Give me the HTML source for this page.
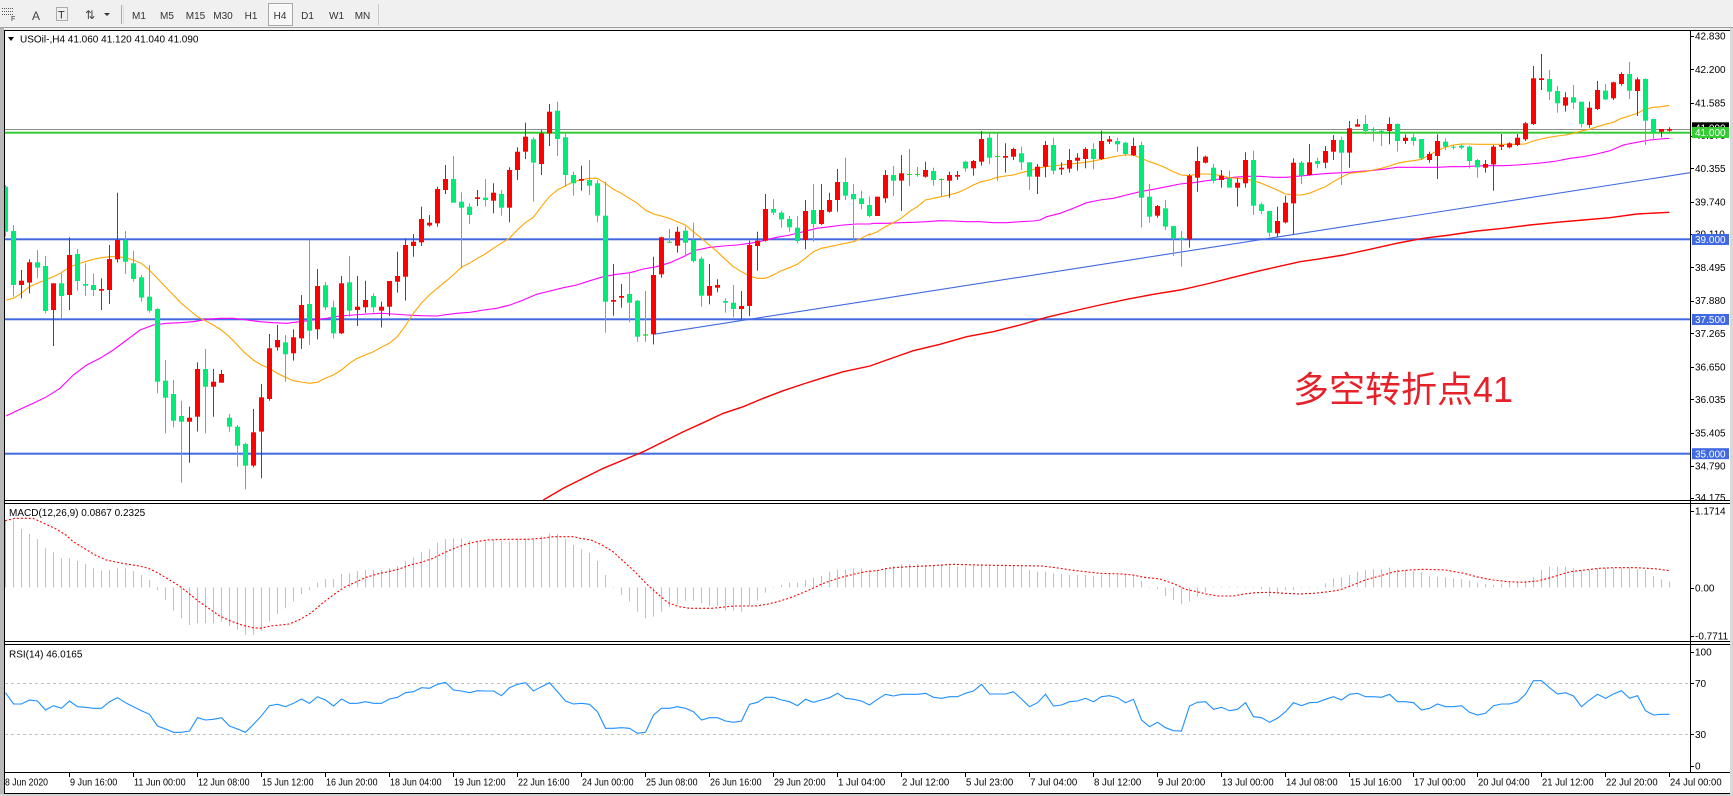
<!DOCTYPE html>
<html><head><meta charset="utf-8"><style>
html,body{margin:0;padding:0;background:#f0f0f0;}
svg{display:block;}
text{font-family:"Liberation Sans","DejaVu Sans",sans-serif;}
</style></head><body>
<svg id="c" xmlns="http://www.w3.org/2000/svg" width="1733" height="796" viewBox="0 0 1733 796">
<defs>
<clipPath id="cm"><rect x="5" y="31" width="1685" height="469"/></clipPath>
<clipPath id="cd"><rect x="5" y="504" width="1685" height="137"/></clipPath>
<clipPath id="cr"><rect x="5" y="645" width="1685" height="127"/></clipPath>
</defs>
<rect x="0" y="0" width="1733" height="796" fill="#f0f0f0"/>
<!-- toolbar -->
<g fill="#555">
<rect x="2" y="8" width="1" height="1"/><rect x="4" y="8" width="1" height="1"/><rect x="6" y="8" width="1" height="1"/><rect x="8" y="8" width="1" height="1"/><rect x="10" y="8" width="1" height="1"/><rect x="12" y="8" width="1" height="1"/>
<rect x="2" y="11" width="1" height="1"/><rect x="4" y="11" width="1" height="1"/><rect x="6" y="11" width="1" height="1"/><rect x="8" y="11" width="1" height="1"/><rect x="10" y="11" width="1" height="1"/><rect x="12" y="11" width="1" height="1"/>
<rect x="2" y="14" width="1" height="1"/><rect x="4" y="14" width="1" height="1"/><rect x="6" y="14" width="1" height="1"/><rect x="8" y="14" width="1" height="1"/><rect x="10" y="14" width="1" height="1"/><rect x="12" y="14" width="1" height="1"/>
</g>
<text x="11" y="21" font-size="7" fill="#333">F</text>
<text x="32" y="20" font-size="12" fill="#444">A</text>
<rect x="56.5" y="7.5" width="11" height="13" fill="none" stroke="#666" stroke-dasharray="1,1"/>
<text x="58" y="18.5" font-size="11" fill="#333">T</text>
<text x="85" y="19" font-size="12" fill="#444">⇅</text>
<path d="M104 13 L110 13 L107 16 Z" fill="#333"/>
<rect x="121" y="5" width="1" height="19" fill="#999" opacity="0.8"/>
<rect x="123" y="5" width="1" height="19" fill="#ddd"/>
<rect x="268.5" y="3.5" width="24" height="22" fill="#f8f8f8" stroke="#a8a8a8"/>
<g font-size="10" fill="#333" text-anchor="middle">
<text x="139" y="19">M1</text><text x="167" y="19">M5</text><text x="195.5" y="19">M15</text><text x="223" y="19">M30</text><text x="251" y="19">H1</text><text x="280" y="19">H4</text><text x="307.5" y="19">D1</text><text x="336.5" y="19">W1</text><text x="362.5" y="19">MN</text>
</g>
<rect x="378" y="4" width="1" height="21" fill="#c8c8c8"/>
<rect x="0" y="27" width="1733" height="1" fill="#a0a0a0"/>
<!-- chart frame -->
<rect x="0" y="28" width="4" height="768" fill="#b8b8b8"/>
<rect x="4" y="30" width="1726" height="764" fill="#ffffff"/>
<rect x="1730" y="28" width="3" height="768" fill="#d8d8d8"/>
<rect x="4" y="30" width="1726" height="1" fill="#000"/>
<rect x="4" y="30" width="1" height="764" fill="#000"/>
<rect x="4" y="500" width="1726" height="1" fill="#000"/>
<rect x="4" y="503" width="1726" height="1" fill="#000"/>
<rect x="4" y="641" width="1726" height="1" fill="#000"/>
<rect x="4" y="644" width="1726" height="1" fill="#000"/>
<rect x="4" y="772" width="1726" height="1" fill="#000"/>
<rect x="4" y="793" width="1726" height="1" fill="#000"/>
<rect x="0" y="794" width="1733" height="2" fill="#d4d4d4"/>
<rect x="1690" y="30" width="1" height="743" fill="#000"/>
<g id="gm" clip-path="url(#cm)"></g>
<g id="gd" clip-path="url(#cd)"></g>
<g id="gr" clip-path="url(#cr)"></g>
<g id="ga"></g>
<!-- header labels -->
<path d="M8 37 L14 37 L11 41 Z" fill="#000"/>
<text x="20" y="42.5" font-size="10" fill="#000">USOil-,H4  41.060 41.120 41.040 41.090</text>
<text x="9" y="516" font-size="10" fill="#000">MACD(12,26,9) 0.0867 0.2325</text>
<text x="9" y="657.5" font-size="10" fill="#000">RSI(14) 46.0165</text>
<text x="1293" y="402" font-size="36" fill="#E62129" style="font-family:'Liberation Sans','Noto Sans CJK SC',sans-serif">多空转折点41</text>
</svg>
<script>
(function(){
var NS='http://www.w3.org/2000/svg';
function el(t,a,p){var e=document.createElementNS(NS,t);for(var k in a)e.setAttribute(k,a[k]);p.appendChild(e);return e;}
var gm=document.getElementById('gm'),gd=document.getElementById('gd'),gr=document.getElementById('gr'),ga=document.getElementById('ga');
function Y(v){return 30+v/3;}
// horizontal lines
el('rect',{x:5,y:129,width:1685,height:1,fill:'#8c8c8c'},gm);
el('rect',{x:5,y:131.7,width:1685,height:2,fill:'#32CD32'},gm);
[239.3,319.3,453.7].forEach(function(y){el('rect',{x:5,y:y-1,width:1685,height:2,fill:'#4169E1'},gm);});
// MAs
function cat(list){var s=[];list.forEach(function(L){var off=L[0];L[1].forEach(function(p){s.push((off+p[0]/3).toFixed(1)+','+Y(p[1]).toFixed(1));});});return s.join(' ');}
var RM5=[[340,1410],[400,1375],[460,1345],[520,1315],[580,1290],[640,1265],[700,1235],[760,1205],[820,1178],[880,1150],[940,1130],[1000,1105],[1060,1082],[1120,1062],[1180,1043],[1240,1025],[1320,1008]];
var RM6=[[80,990],[160,962],[240,943],[320,920],[400,905],[480,885],[560,862],[640,843],[720,825],[800,808],[880,793],[960,780],[1040,762],[1120,742],[1200,722],[1320,695]];
var RM7=[[80,688],[160,675],[240,658],[320,640],[400,625],[480,615],[560,603],[640,595],[720,585],[800,577],[880,570],[960,563],[1040,552],[1138,547]];
el('polyline',{points:cat([[430,RM5],[860,RM6],[1290,RM7]]),fill:'none',stroke:'#FF0000','stroke-width':1.4},gm);
// trendline
el('line',{x1:653.3,y1:334.3,x2:1690,y2:172.7,stroke:'#4169E1','stroke-width':1.1},gm);
var M4=[[18,1158],[60,1138],[100,1120],[140,1100],[180,1075],[220,1035],[260,1005],[300,985],[340,960],[380,930],[420,900],[460,885],[500,880],[540,878],[580,875],[620,868],[660,865],[700,865],[740,870],[780,875],[820,878],[860,880],[900,875],[940,870],[980,865],[1020,858],[1060,855],[1100,852],[1140,850],[1180,852],[1220,855],[1260,857],[1312,858]];
var M5=[[40,855],[80,850],[120,847],[160,840],[200,835],[240,825],[280,810],[320,793],[360,783],[400,773],[440,765],[480,752],[520,740],[560,733],[600,728],[640,717],[680,710],[720,698],[760,680],[800,660],[840,652],[880,648],[920,645],[960,640],[1000,632],[1040,622],[1080,615],[1120,605],[1160,595],[1200,590],[1240,585],[1280,582],[1320,582]];
var M6=[[40,580],[80,580],[120,578],[160,577],[200,575],[240,572],[280,573],[320,575],[360,575],[400,578],[440,578],[480,575],[520,573],[540,570],[560,560],[600,550],[640,535],[680,518],[720,510],[760,505],[800,495],[840,485],[880,478],[920,470],[960,462],[1000,458],[1040,452],[1080,447],[1120,442],[1160,439],[1200,439],[1240,442],[1280,442],[1320,438]];
var M7=[[40,437],[80,433],[120,430],[160,428],[200,425],[240,422],[280,418],[320,412],[360,412],[400,412],[440,412],[480,410],[520,410],[560,408],[600,407],[640,407],[680,405],[720,402],[760,398],[800,393],[840,385],[880,380],[920,372],[960,362],[1000,345],[1040,337],[1080,330],[1110,327],[1138,325]];
el('polyline',{points:cat([[0,M4],[430,M5],[860,M6],[1290,M7]]),fill:'none',stroke:'#FF00FF','stroke-width':1.1},gm);
var O4=[[18,810],[40,805],[64,790],[88,770],[112,760],[136,750],[160,740],[184,728],[208,712],[232,702],[256,695],[280,688],[304,683],[328,680],[352,680],[376,683],[400,690],[424,700],[448,720],[472,745],[496,770],[520,795],[544,820],[568,840],[592,860],[616,872],[640,885],[664,900],[688,920],[712,945],[736,970],[760,990],[784,1005],[808,1015],[832,1030],[856,1042],[880,1052],[904,1056],[928,1060],[952,1057],[976,1045],[1000,1035],[1024,1020],[1048,1000],[1072,985],[1096,975],[1120,965],[1144,952],[1168,940],[1192,920],[1216,888],[1240,850],[1264,820],[1288,795],[1312,775]];
var O5=[[46,755],[70,735],[94,712],[118,700],[142,685],[166,672],[190,655],[214,640],[238,625],[262,600],[286,578],[310,562],[334,530],[358,500],[382,480],[406,468],[430,455],[454,450],[478,445],[502,445],[526,460],[550,478],[574,490],[598,505],[622,520],[646,540],[670,552],[694,558],[718,565],[742,575],[766,585],[790,605],[814,625],[838,645],[862,665],[886,688],[910,710],[934,725],[958,738],[982,745],[1006,745],[1030,735],[1054,722],[1078,713],[1102,703],[1126,685],[1150,665],[1174,655],[1198,650],[1222,645],[1246,640],[1270,635],[1294,625],[1318,612]];
var O6=[[28,615],[52,605],[76,590],[100,578],[124,565],[148,545],[172,530],[196,510],[220,505],[244,500],[268,495],[292,488],[316,478],[340,465],[364,455],[388,450],[412,442],[436,438],[460,435],[484,428],[508,422],[532,415],[556,410],[580,408],[604,405],[628,402],[652,400],[676,397],[700,393],[724,388],[748,383],[772,378],[796,375],[820,375],[844,385],[868,395],[892,403],[916,413],[940,425],[964,435],[988,437],[1012,432],[1036,432],[1060,433],[1084,437],[1108,443],[1132,445],[1156,447],[1180,452],[1204,460],[1228,470],[1252,480],[1276,492],[1300,495]];
var O7=[[34,495],[58,490],[82,480],[106,470],[130,455],[154,442],[178,430],[202,427],[226,425],[250,420],[274,415],[298,408],[322,400],[346,395],[370,392],[394,388],[418,375],[442,362],[466,352],[490,345],[514,342],[538,342],[562,343],[586,343],[610,343],[634,343],[658,343],[682,343],[706,342],[730,333],[754,327],[778,322],[802,318],[826,315],[850,310],[874,303],[898,298],[922,290],[946,283],[970,277],[994,265],[1018,258],[1042,250],[1066,237],[1090,232],[1114,230],[1138,226]];
el('polyline',{points:cat([[0,O4],[430,O5],[860,O6],[1290,O7]]),fill:'none',stroke:'#FFA500','stroke-width':1.1},gm);
// candles
var C=[['g',470,605,465,620],['g',603,765,585,800],['r',752,765,720,805],['r',697,758,688,790],['g',697,713,660,745],['g',708,843,678,850],['r',760,840,760,948],['g',760,798,730,865],['r',675,795,622,840],['g',672,753,657,782],
['g',762,767,700,798],['g',765,780,730,798],['r',777,782,745,840],['r',687,780,645,822],['r',630,688,488,697],['g',630,695,603,732],['g',700,747,662,755],['g',742,803,735,815],['g',800,842,705,848],['g',837,1055,835,1090],
['g',1052,1103,990,1210],['g',1092,1172,1050,1192],['g',1158,1175,1112,1358],['r',1163,1175,1130,1298],['r',1017,1160,997,1205],['g',1017,1070,957,1210],['r',1055,1070,1017,1160],['r',1032,1058,1020,1058],['g',1163,1190,1152,1205],['g',1190,1247,1185,1310],
['g',1242,1307,1238,1378],['r',1207,1307,1137,1312],['r',1102,1205,1062,1345],['r',955,1107,912,1112],['r',930,952,885,962],['g',937,973,915,1055],['r',922,970,898,992],['r',825,925,795,957],['g',822,902,630,945],['r',768,898,717,928],
['g',766,832,756,840],['g',832,910,812,925],['r',760,910,738,912],['g',757,842,678,860],['r',830,840,738,888],['r',810,832,752,848],['g',798,832,790,848],['r',830,842,815,892],['r',753,830,753,858],['r',738,755,665,788],
['r',645,740,625,812],['r',635,648,612,680],['r',567,637,530,648],['r',578,586,555,590],['r',477,580,470,590],['r',447,480,405,492],['g',447,518,378,518],['g',515,533,487,715],['g',530,555,520,582],['r',502,507,480,528],
['g',503,510,447,530],['r',488,512,460,550],['g',492,533,480,557],['r',420,533,412,577],['r',365,420,352,450],['r',320,365,278,387],['g',328,398,322,515],['r',310,402,300,435],['r',245,310,222,348],['g',242,327,215,378],
['g',322,435,310,470],['g',435,460,425,497],['r',447,452,407,482],['g',450,467,390,495],['g',460,557,450,577],['g',557,815,455,908],['r',810,815,702,857],['r',798,803,762,833],['g',792,818,725,877],['g',812,920,810,935],
['l',913,917,783,935],['r',735,913,680,943],['r',622,733,620,743],['l',635,638,597,638],['r',605,647,590,668],['g',602,638,590,680],['g',630,693,578,697],['g',686,797,680,830],['r',768,797,702,823],['r',765,773,748,787],
['g',813,818,805,848],['g',818,837,765,862],['r',828,837,783,868],['r',645,828,632,858],['r',632,648,605,722],['r',537,632,492,635],['g',537,548,507,555],['g',548,568,542,593],['g',567,592,558,605],['g',593,633,558,640],
['r',543,630,510,658],['g',540,582,462,635],['r',540,582,462,585],['r',510,545,488,548],['r',456,510,417,545],['g',456,497,383,510],['g',492,508,462,632],['g',505,522,482,538],['g',525,558,500,562],['r',500,558,500,558],
['r',435,505,420,518],['g',435,452,408,498],['r',430,452,375,543],['l',432,435,357,468],['l',432,435,411,440],['r',420,440,395,443],['g',423,450,413,467],['l',447,449,445,498],['r',435,452,425,503],['r',435,440,423,450],
['g',395,415,392,425],['r',393,415,390,437],['r',327,395,303,407],['g',323,383,310,403],['l',378,381,308,452],['r',378,383,340,428],['r',357,380,353,390],['g',370,397,350,420],['g',397,440,397,480],['r',410,440,402,492],
['r',345,410,333,442],['g',345,422,323,433],['r',413,418,397,435],['r',390,416,357,428],['r',383,392,370,422],['r',357,387,352,415],['g',357,387,340,418],['r',333,387,302,390],['r',328,335,318,342],['g',333,343,323,365],
['g',338,372,335,377],['r',348,376,323,378],['g',345,503,335,592],['g',500,560,462,578],['r',528,557,525,563],['g',535,590,510,600],['g',588,625,588,678],['g',623,628,603,710],['r',437,628,432,653],['r',393,443,350,485],
['r',380,398,377,400],['g',413,453,402,460],['r',437,450,420,473],['g',445,473,422,473],['r',458,473,445,530],['r',390,460,367,473],['g',390,527,362,555],['g',523,543,518,552],['g',543,608,543,620],['r',573,610,530,622],
['r',518,577,497,580],['r',398,520,385,613],['g',398,437,393,462],['r',397,435,342,437],['g',393,402,383,415],['r',363,398,348,415],['r',330,365,315,390],['g',330,368,320,465],['r',295,368,273,413],['r',283,290,267,290],
['g',282,303,255,313],['g',298,302,292,335],['g',302,305,298,348],['r',282,303,262,343],['g',282,333,280,365],['r',323,333,313,342],['g',322,333,312,347],['g',327,385,327,390],['r',372,390,365,398],['r',333,378,313,447],
['g',335,350,325,360],['g',350,353,345,358],['g',347,353,343,357],['g',350,393,347,415],['g',390,412,387,443],['r',402,413,390,428],['r',350,403,345,482],['r',345,350,312,360],['r',340,352,337,355],['r',323,345,312,348],
['r',280,328,276,333],['r',145,282,108,285],['r',145,150,72,180],['g',147,185,120,210],['g',183,220,168,248],['r',202,227,187,245],['g',202,218,165,237],['g',215,282,215,292],['r',233,285,215,293],['r',180,237,153,240],
['g',182,208,162,210],['r',157,205,155,210],['r',132,162,127,167],['g',132,182,96,207],['r',148,183,142,258],['g',147,272,145,345],['g',267,307,267,327],['r',297,305,297,322],['r',297,302,292,305]];
var col={r:'#FF0000',g:'#00EA78',l:'#22DD22'};
C.forEach(function(c,i){
  var x=5+8*i,f=col[c[0]];
  var wt=Y(c[3]),wb=Y(c[4]),bt=Y(c[1]),bb=Y(c[2]);
  el('rect',{x:x,y:wt.toFixed(1),width:1,height:Math.max(1,wb-wt).toFixed(1),fill:f},gm);
  el('rect',{x:x-2,y:bt.toFixed(1),width:5,height:Math.max(1,bb-bt).toFixed(1),fill:f},gm);
});
// MACD histogram
var H=[67.3,66.7,58.3,53.3,48.3,39,35,29,29,26.3,23.3,19,16.7,17.3,19,19,16.3,12.3,7.3,-2.7,-12.7,-23.3,-31,-37.7,-36,-36,-36,-34.3,-38.7,-42.7,-47.7,-47.7,-43.7,-34.3,-26.7,-21,-14.3,-6.7,-2.7,4.7,8.3,8.3,13.3,14,16.3,17.3,17.3,17.3,19,21.3,26.3,30,35,38.3,44.7,48.3,49,49,46.7,46.7,47.3,47.3,46.7,45.7,49,49,49,51.3,54,53.3,48.3,42.3,
38.3,34.7,26.3,12.3,0.3,-7.7,-14.3,-24.3,-31,-29.3,-24.3,-20,-16.7,-13.3,-13.3,-16,-18.7,-18.7,-23.3,-23.3,-24.3,-18.7,-13.3,-5.3,0,2.3,4.7,4.7,7.3,9.7,11.3,15.7,18,18,19,19,17.3,17.3,19,21.3,23,23.3,23.3,22.3,22.3,21.7,21.7,20.7,20.7,21.3,23.3,22.3,22.3,22.3,21.3,21.3,17.3,15.7,15.7,14,13.3,12.3,12.3,12.3,11.7,12.3,14,12.3,12.3,12.3,6.3,0,-2,
-8.7,-12.7,-17,-14.3,-9.3,-5.3,0.7,0.7,0.7,0.7,0,0,-2,-9.3,-6,-2.7,-2.7,0,0,0,4,9,10,12.3,15.7,17.3,18,18,19.7,18,17.3,16.3,14.7,11.3,10.7,10,9,8.3,6.7,4.7,3.3,2.3,4,4.7,5.7,6.3,10,17.3,20.7,20.7,20.7,19,17.3,17.3,19,19,19,19,19,18,17.3,11.3,8,5.7];
var Z=587.3;
H.forEach(function(v,i){var x=5+8*i;var h=Math.abs(v);if(h<0.6)h=0.6;el('rect',{x:x,y:(v>=0?Z-h:Z).toFixed(1),width:1,height:h.toFixed(1),fill:'#C0C0C0'},gd);});
function catS(list){var s=[];list.forEach(function(L){var off=L[0];L[1].forEach(function(p){s.push((off+p[0]*0.3662).toFixed(1)+','+(500+p[1]/3).toFixed(1));});});return s.join(' ');}
var S8=[[14,62],[40,55],[90,55],[120,70],[150,85],[180,105],[200,125],[230,145],[260,165],[290,180],[320,187],[350,193],[380,198],[405,205],[430,218],[460,238],[490,258],[510,275],[540,302],[570,325],[600,348],[630,363],[660,375],[690,383],[710,385],[740,378],[790,372],[820,358],[850,338],[880,310],[910,285],[940,262],[970,247],[1000,232],[1030,222],[1060,215],[1090,207],[1120,195],[1150,187],[1180,176],[1210,160],[1240,145],[1270,133],[1300,125],[1330,120],[1380,118],[1440,118],[1480,115],[1510,110],[1568,110]];
var S9=[[0,115],[30,120],[60,135],[90,155],[120,185],[150,215],[180,250],[210,280],[240,308],[270,320],[300,325],[360,325],[420,318],[480,318],[510,313],[540,305],[570,295],[600,282],[630,268],[660,252],[690,240],[720,230],[750,222],[780,215],[810,212],[840,205],[870,202],[900,200],[960,197],[1020,193],[1080,195],[1200,197],[1260,198],[1300,203],[1340,210],[1380,215],[1420,220],[1480,222],[1510,225],[1540,232],[1568,235]];
var S10=[[0,237],[40,252],[70,268],[100,275],[130,283],[160,288],[200,288],[230,282],[260,278],[300,277],[340,280],[380,282],[420,280],[460,275],[490,270],[520,258],[560,240],[600,228],[640,215],[680,210],[720,208],[780,210],[830,220],[870,232],[910,240],[950,245],[990,247],[1030,243],[1060,235],[1090,225],[1120,215],[1160,210],[1200,205],[1240,203],[1300,203],[1360,207],[1394,213]];
el('polyline',{points:catS([[0,S8],[580,S9],[1160,S10]]),fill:'none',stroke:'#FF0000','stroke-width':1.1,'stroke-dasharray':'2,2'},gd);
// RSI
el('line',{x1:5,y1:683.5,x2:1690,y2:683.5,stroke:'#C0C0C0','stroke-width':1,'stroke-dasharray':'3,3'},gr);
el('line',{x1:5,y1:734.5,x2:1690,y2:734.5,stroke:'#C0C0C0','stroke-width':1,'stroke-dasharray':'3,3'},gr);
var R=[578,612,612,600,603,630,617,625,603,620,622,625,625,605,593,608,620,632,643,678,687,697,697,693,653,660,658,653,678,687,697,673,647,617,613,620,610,597,610,590,600,618,597,610,610,605,610,610,597,592,578,575,563,565,553,547,570,573,578,572,573,573,587,563,553,548,573,560,548,575,603,612,
610,613,635,685,685,683,685,700,697,645,625,625,620,625,635,660,653,653,663,667,663,613,607,592,592,600,605,617,598,607,600,593,580,595,598,603,615,598,583,588,583,583,583,580,592,595,590,590,580,573,553,582,582,582,575,597,620,608,583,618,615,605,603,595,605,590,587,593,608,598,660,680,667,
683,692,693,618,607,605,628,622,632,628,608,650,653,667,655,635,608,617,608,607,598,590,600,583,580,590,590,592,583,605,605,608,630,625,612,620,620,617,637,645,640,617,612,612,605,583,542,542,563,582,578,588,620,600,583,595,582,572,595,587,632,645,643,643];
el('polyline',{points:R.map(function(v,i){return (5.5+8*i)+','+(500+v/3).toFixed(1);}).join(' '),fill:'none',stroke:'#1E90FF','stroke-width':1.1},gr);
// right axis labels
function txt(x,y,s,fill,size,p,anchor){var t=el('text',{x:x,y:y,'font-size':size||10,fill:fill||'#000'},p||ga);if(anchor)t.setAttribute('text-anchor',anchor);t.textContent=s;return t;}
var PL=[['42.830',36],['42.200',69.3],['41.585',102.7],['40.970',135.5],['40.355',168.3],['39.740',201.7],['39.110',234],['38.495',267.3],['37.880',300.5],['37.265',333.3],['36.650',366.7],['36.035',399.3],['35.405',432.7],['34.790',465.7],['34.175',497.5]];
PL.forEach(function(p){el('rect',{x:1690,y:Math.round(p[1]),width:4,height:1,fill:'#000'},ga);txt(1695,(p[1]+3.6).toFixed(1),p[0]);});
function box(y,s,bg,fg){el('rect',{x:1692,y:y-5.5,width:37,height:11,fill:bg},ga);txt(1695,(y+3.6).toFixed(1),s,fg);}
box(127.8,'41.090','#000','#fff');
box(132.5,'41.000','#32CD32','#fff');
box(239.5,'39.000','#4169E1','#fff');
box(319.5,'37.500','#4169E1','#fff');
box(453.7,'35.000','#4169E1','#fff');
[['1.1714',511],['0.00',587.7],['-0.7711',635.7]].forEach(function(p){el('rect',{x:1690,y:Math.round(p[1]),width:4,height:1,fill:'#000'},ga);txt(1695,(p[1]+3.6).toFixed(1),p[0]);});
[['100',651.7],['70',683.3],['30',734.3],['0',765.7]].forEach(function(p){el('rect',{x:1690,y:Math.round(p[1]),width:4,height:1,fill:'#000'},ga);txt(1695,(p[1]+3.6).toFixed(1),p[0]);});
// time axis
var T=['8 Jun 2020','9 Jun 16:00','11 Jun 00:00','12 Jun 08:00','15 Jun 12:00','16 Jun 20:00','18 Jun 04:00','19 Jun 12:00','22 Jun 16:00','24 Jun 00:00','25 Jun 08:00','26 Jun 16:00','29 Jun 20:00','1 Jul 04:00','2 Jul 12:00','5 Jul 23:00','7 Jul 04:00','8 Jul 12:00','9 Jul 20:00','13 Jul 00:00','14 Jul 08:00','15 Jul 16:00','17 Jul 00:00','20 Jul 04:00','21 Jul 12:00','22 Jul 20:00','24 Jul 00:00'];
T.forEach(function(s,k){var x=k==0?4:5+64*k;el('rect',{x:x,y:773,width:1,height:4,fill:'#000'},ga);var t=txt(x+1,785.5,s);t.setAttribute('textLength',(s.length*4.3).toFixed(1));t.setAttribute('lengthAdjust','spacingAndGlyphs');});
})();
</script>
</body></html>
